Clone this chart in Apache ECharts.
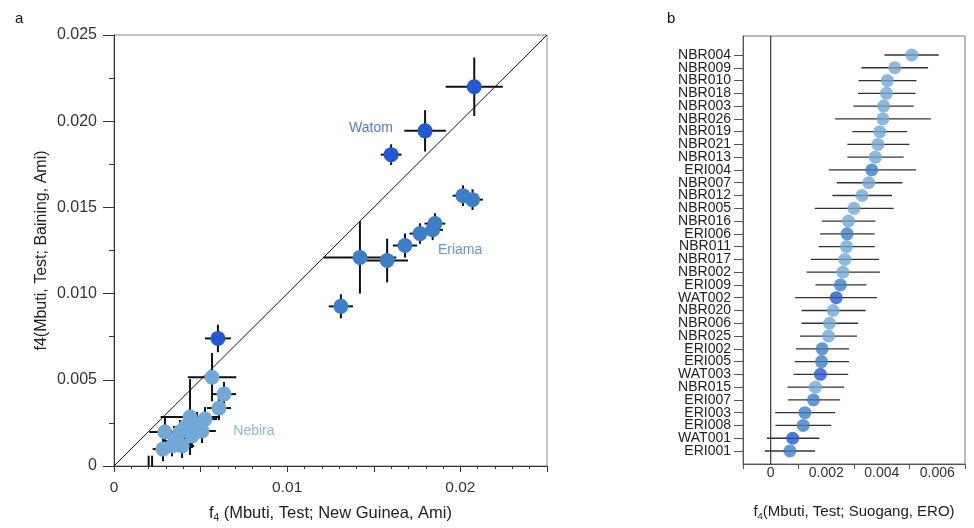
<!DOCTYPE html>
<html><head><meta charset="utf-8">
<script src="https://cdn.jsdelivr.net/npm/echarts@6/dist/echarts.min.js"></script>
<style>html,body{margin:0;padding:0;background:#fff}#c{width:974px;height:528px}</style>
</head><body><div id="c"></div>
<script>
// ---- Panel a data ----
const watomX    = [0.0208, 0.01796, 0.0160, 0.0060];
const watomY    = [0.0220, 0.01944, 0.01806, 0.0074];
const watomXErr = [0.00165, 0.0012, 0.0006, 0.00075];
const watomYErr = [0.0017, 0.0012, 0.0006, 0.0008];

const eriamaX    = [0.02015, 0.0207, 0.01853, 0.0184, 0.01767, 0.0168, 0.01577, 0.0142, 0.0131];
const eriamaY    = [0.01568, 0.01545, 0.01406, 0.0137, 0.01348, 0.01279, 0.01192, 0.0121, 0.00926];
const eriamaXErr = [0.0006, 0.0006, 0.0006, 0.0006, 0.0006, 0.0007, 0.0012, 0.0021, 0.0007];
const eriamaYErr = [0.0006, 0.0006, 0.0006, 0.0006, 0.0006, 0.0007, 0.00127, 0.0021, 0.0007];

const nebiraX    = [0.00566, 0.00635, 0.00606, 0.00439, 0.00525, 0.00479, 0.00508, 0.0041, 0.00381, 0.0045, 0.00352, 0.00393, 0.00335, 0.00283, 0.00294, 0.0020, 0.0022];
const nebiraY    = [0.00515, 0.00417, 0.00336, 0.00284, 0.00272, 0.00243, 0.00203, 0.00226, 0.00197, 0.00174, 0.00145, 0.00116, 0.00116, 0.00098, 0.00197, -0.0006, -0.0006];
const nebiraXErr = [0.0014, 0.0007, 0.0007, 0.0017, 0.0007, 0.0007, 0.0008, 0.0007, 0.0007, 0.0007, 0.0006, 0.0007, 0.0006, 0.0006, 0.0009, 0.0005, 0.0005];
const nebiraYErr = [0.0014, 0.0007, 0.0007, 0.0022, 0.0007, 0.0007, 0.0007, 0.0007, 0.0007, 0.0007, 0.0006, 0.0007, 0.0006, 0.0007, 0.0009, 0.0012, 0.0012];

const groupNames  = ['Watom', 'Eriama', 'Nebira'];
const groupLabelX = [0.01484, 0.01998, 0.00808];
const groupLabelY = [0.01962, 0.0125, 0.00203];

// tick labels
const aXLabels = [0, 0.01, 0.02];
const aYLabels = [0, 0.005, 0.010, 0.015, 0.020, 0.025];
const bXLabels = [0, 0.002, 0.004, 0.006];
const bXTicks  = [-0.001, 0.001, 0.003, 0.005, 0.007];

// ---- Panel b data (top to bottom) ----
const samples = ['NBR004','NBR009','NBR010','NBR018','NBR003','NBR026','NBR019','NBR021','NBR013','ERI004',
  'NBR007','NBR012','NBR005','NBR016','ERI006','NBR011','NBR017','NBR002','ERI009','WAT002',
  'NBR020','NBR006','NBR025','ERI002','ERI005','WAT003','NBR015','ERI007','ERI003','ERI008','WAT001','ERI001'];
const f4Value = [5.08,4.47,4.20,4.17,4.07,4.04,3.93,3.86,3.77,3.64,
  3.53,3.29,3.00,2.80,2.75,2.73,2.67,2.60,2.51,2.36,
  2.25,2.12,2.08,1.85,1.83,1.79,1.61,1.54,1.23,1.17,0.79,0.69];
const f4Low = [4.10,3.27,3.16,3.14,2.98,2.32,2.94,2.76,2.76,2.09,
  2.38,2.22,1.59,1.84,1.78,1.72,1.45,1.29,1.61,0.88,
  1.11,1.11,1.06,0.91,0.86,0.82,0.60,0.62,0.16,0.17,-0.14,-0.22];
const f4High = [6.05,5.67,5.25,5.22,5.15,5.77,4.92,5.00,4.79,5.24,
  4.74,4.37,4.43,3.77,3.74,3.75,3.90,3.93,3.45,3.83,
  3.42,3.15,3.11,2.82,2.82,2.79,2.65,2.50,2.32,2.18,1.75,1.60];
const f4Scale = 0.001;

const COL = {WAT:'#2457d3', ERI:'#3b7fc8', NBR:'#72a8d7'};
const colA = ['#2457d3', '#3b7fc8', '#72a8d7'];
const FONT = 'Liberation Sans';

function pack(xs, ys, exs, eys){ return xs.map((x,i)=>[x, ys[i], exs[i], eys[i]]); }
const groupsA = [pack(watomX,watomY,watomXErr,watomYErr), pack(eriamaX,eriamaY,eriamaXErr,eriamaYErr), pack(nebiraX,nebiraY,nebiraXErr,nebiraYErr)];

function crossItem(params, api){
  const x=api.value(0), y=api.value(1), ex=api.value(2), ey=api.value(3);
  const a=api.coord([x-ex,y]), b=api.coord([x+ex,y]), c=api.coord([x,y-ey]), d=api.coord([x,y+ey]);
  const style={stroke:'#111', lineWidth:2};
  return {type:'group', children:[
    {type:'line', shape:{x1:a[0],y1:a[1],x2:b[0],y2:b[1]}, style},
    {type:'line', shape:{x1:c[0],y1:c[1],x2:d[0],y2:d[1]}, style}
  ]};
}
function hbarItem(params, api){
  const lo=api.value(0), hi=api.value(1), cat=api.value(2);
  const a=api.coord([lo,cat]), b=api.coord([hi,cat]);
  return {type:'line', shape:{x1:a[0],y1:a[1],x2:b[0],y2:b[1]}, style:{stroke:'#333', lineWidth:1.3}};
}

const bData = samples.map((s,i)=>({value:[f4Value[i]*f4Scale, s], itemStyle:{color:COL[s.slice(0,3)]}}));
const bErr = samples.map((s,i)=>[f4Low[i]*f4Scale, f4High[i]*f4Scale, s]);

const series = [];
groupsA.forEach((g,k)=>{
  series.push({type:'custom', xAxisIndex:0, yAxisIndex:0, renderItem:crossItem, data:g, clip:true, z:2, silent:true});
});
groupsA.forEach((g,k)=>{
  series.push({type:'scatter', xAxisIndex:0, yAxisIndex:0, data:g.map(p=>[p[0],p[1]]), symbolSize:15,
    itemStyle:{color:colA[k], opacity:1}, clip:true, z:3, silent:true});
});
series.push({type:'line', xAxisIndex:0, yAxisIndex:0, data:[[0,0],[0.025,0.025]], symbol:'none',
  lineStyle:{color:'#111', width:1}, z:1, silent:true});
series.push({type:'scatter', xAxisIndex:0, yAxisIndex:0, symbolSize:0, z:4, silent:true,
  data:groupNames.map((n,i)=>({value:[groupLabelX[i], groupLabelY[i]], name:n,
    label:{show:true, position:'inside', formatter:n, fontFamily:FONT, fontSize:14, color:colA[i]}}))});

// panel b: zero reference line spanning the whole box
series.push({type:'line', xAxisIndex:1, yAxisIndex:1, data:[[0,0],[0,1]], symbol:'none',
  lineStyle:{color:'#111', width:1}, z:1, silent:true});
series.push({type:'custom', xAxisIndex:2, yAxisIndex:2, renderItem:hbarItem, data:bErr,
  encode:{x:[0,1], y:2}, z:2, silent:true});
series.push({type:'scatter', xAxisIndex:2, yAxisIndex:2, data:bData, symbolSize:13, z:3, silent:true});

const titleRichA = {n:{fontFamily:FONT, fontSize:16.5, color:'#222'}, s:{fontFamily:FONT, fontSize:10, color:'#222', verticalAlign:'bottom', padding:[9,0,0,0]}};
const titleRichB = {n:{fontFamily:FONT, fontSize:15, color:'#222'}, s:{fontFamily:FONT, fontSize:9.5, color:'#222', verticalAlign:'bottom', padding:[8,0,0,0]}};

const option = {
  animation:false,
  backgroundColor:'#fff',
  title:[
    {text:'a', left:10, top:6, textStyle:{fontFamily:FONT, fontSize:15, fontWeight:'normal', color:'#111'}},
    {text:'b', left:662, top:6, textStyle:{fontFamily:FONT, fontSize:15, fontWeight:'normal', color:'#111'}}
  ],
  grid:[
    {left:114, top:35, width:433, height:432, show:true, borderColor:'#888', borderWidth:1},
    {left:743, top:36, width:222, height:428, show:true, borderColor:'#777', borderWidth:1},
    {left:743, top:48.6, width:222, height:408.8, show:false}
  ],
  xAxis:[
    {type:'value', gridIndex:0, min:0, max:0.025, interval:0.005,
     axisLine:{show:true, onZero:false, lineStyle:{color:'#333'}},
     axisTick:{show:true, length:6, lineStyle:{color:'#333'}},
     minorTick:{show:true, splitNumber:5, length:3, lineStyle:{color:'#333'}},
     splitLine:{show:false}, minorSplitLine:{show:false},
     axisLabel:{fontFamily:FONT, fontSize:15.5, color:'#333', margin:14, customValues:aXLabels, showMinLabel:true, showMaxLabel:true,
       formatter:v=>Math.abs(v)<1e-12?'0':String(+(+v).toFixed(3))},
     name:'{n|f}{s|4}{n| (Mbuti, Test; New Guinea, Ami)}', nameLocation:'middle', nameGap:38, nameMoveOverlap:false,
     nameTextStyle:{rich:titleRichA}},
    {type:'value', gridIndex:1, min:-0.001, max:0.007, interval:0.001,
     axisLine:{show:true, onZero:false, lineStyle:{color:'#555'}},
     axisTick:{show:true, length:5, lineStyle:{color:'#555'}, customValues:bXTicks},
     splitLine:{show:false},
     axisLabel:{fontFamily:FONT, fontSize:14, color:'#333', margin:2, customValues:bXLabels, showMinLabel:true, showMaxLabel:true,
       formatter:v=>Math.abs(v)<1e-12?'0':(+v).toFixed(3)},
     name:'{n|f}{s|4}{n|(Mbuti, Test; Suogang, ERO)}', nameLocation:'middle', nameGap:39, nameMoveOverlap:false,
     nameTextStyle:{rich:titleRichB}},
    {type:'value', gridIndex:2, min:-0.001, max:0.007, interval:0.001, show:false}
  ],
  yAxis:[
    {type:'value', gridIndex:0, min:0, max:0.025, interval:0.005,
     axisLine:{show:true, onZero:false, lineStyle:{color:'#333'}},
     axisTick:{show:true, length:11, lineStyle:{color:'#333'}},
     minorTick:{show:true, splitNumber:2, length:5, lineStyle:{color:'#333'}},
     splitLine:{show:false}, minorSplitLine:{show:false},
     axisLabel:{fontFamily:FONT, fontSize:16, color:'#333', margin:17, customValues:aYLabels, showMinLabel:true, showMaxLabel:true,
       formatter:v=>Math.abs(v)<1e-12?'0':(+v).toFixed(3)},
     name:'f4(Mbuti, Test; Baining, Ami)', nameLocation:'middle', nameGap:64, nameMoveOverlap:false,
     nameTextStyle:{fontFamily:FONT, fontSize:16, color:'#222'}},
    {type:'value', gridIndex:1, min:0, max:1,
     axisLine:{show:true, onZero:false, lineStyle:{color:'#555'}},
     axisTick:{show:false}, axisLabel:{show:false}, splitLine:{show:false}},
    {type:'category', gridIndex:2, data:samples, inverse:true, position:'left',
     axisLine:{show:false, onZero:false},
     axisTick:{show:true, length:9, alignWithLabel:true, interval:0, lineStyle:{color:'#555'}},
     splitLine:{show:false},
     axisLabel:{fontFamily:FONT, fontSize:14, color:'#222', margin:12, interval:0}}
  ],
  series
};
const chart = echarts.init(document.getElementById('c'), null, {renderer:'canvas'});
chart.setOption(option);
</script>
</body></html>
